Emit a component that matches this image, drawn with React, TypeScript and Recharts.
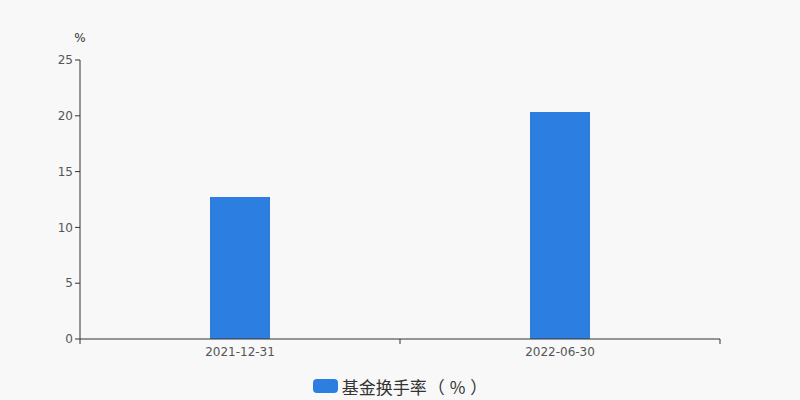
import React from "react";
import { BarChart, Bar, XAxis, YAxis, Legend } from "recharts";

const categories = ["2021-12-31", "2022-06-30"];
const turnoverRates = [12.72, 20.34];
const yTicks = [0, 5, 10, 15, 20, 25];
const seriesName = "基金换手率（%）";

const data = categories.map((date, i) => ({ date, rate: turnoverRates[i] }));

const BAR_COLOR = "#2c7fe0";
const AXIS_COLOR = "#333";
const TEXT_COLOR = "#555";
const FONT = "'DejaVu Sans', 'Noto Sans CJK SC', sans-serif";

// tick lines at category boundaries, label in the middle
const BoundaryTick = (props: any) => {
  const { x, y, payload, index, visibleTicksCount } = props;
  const off = payload.offset ?? 0;
  const isLast = index === visibleTicksCount - 1;
  return (
    <g>
      <line x1={x - off} x2={x - off} y1={y - 8} y2={y - 3} stroke={AXIS_COLOR} />
      {isLast && (
        <line x1={x + off} x2={x + off} y1={y - 8} y2={y - 3} stroke={AXIS_COLOR} />
      )}
      <text x={x} y={y + 9} textAnchor="middle" fill={TEXT_COLOR} fontSize={12} fontFamily={FONT}>
        {payload.value}
      </text>
    </g>
  );
};

const LegendContent = () => {
  // the unit part gets wider spacing, like full-width brackets
  const cut = seriesName.indexOf("（");
  const base = cut >= 0 ? seriesName.slice(0, cut) : seriesName;
  const unit = cut >= 0 ? seriesName.slice(cut) : "";
  return (
    <div
      style={{
        display: "flex",
        justifyContent: "center",
        alignItems: "center",
        height: 26,
        paddingTop: 3,
        fontFamily: "'Noto Sans CJK SC', 'DejaVu Sans', sans-serif",
      }}
    >
      <span
        style={{
          width: 25,
          height: 14,
          borderRadius: 4,
          background: BAR_COLOR,
          display: "inline-block",
          marginRight: 4,
          flexShrink: 0,
        }}
      />
      <span style={{ fontSize: 17, color: "#333", whiteSpace: "nowrap", flexShrink: 0 }}>
        {base}
        <span style={{ letterSpacing: 5, paddingLeft: 1 }}>{unit}</span>
      </span>
      <span style={{ width: 0, marginRight: -5, flexShrink: 0 }} />
    </div>
  );
};

const App: React.FC = () => {
  return (
    <div style={{ position: "absolute", left: 0, top: 0, width: 800, height: 400, background: "#f8f8f8" }}>
      <BarChart
        width={800}
        height={400}
        data={data}
        margin={{ top: 60, right: 80, left: 0, bottom: 1 }}
      >
        <XAxis
          dataKey="date"
          height={31}
          stroke={AXIS_COLOR}
          tickLine={false}
          tick={<BoundaryTick />}
          interval={0}
        />
        <YAxis
          width={80}
          domain={[0, 25]}
          ticks={yTicks}
          stroke={AXIS_COLOR}
          tickSize={5}
          tick={{ fill: TEXT_COLOR, fontSize: 12, fontFamily: FONT }}
          label={{
            value: "%",
            position: "top",
            offset: 18,
            dx: 40,
            fill: "#333",
            fontSize: 12,
            fontFamily: FONT,
          }}
        />
        <Legend
          verticalAlign="bottom"
          content={<LegendContent />}
          wrapperStyle={{ left: 0, width: 800 }}
        />
        <Bar dataKey="rate" name={seriesName} fill={BAR_COLOR} barSize={60} isAnimationActive={false} />
      </BarChart>
    </div>
  );
};

export default App;
